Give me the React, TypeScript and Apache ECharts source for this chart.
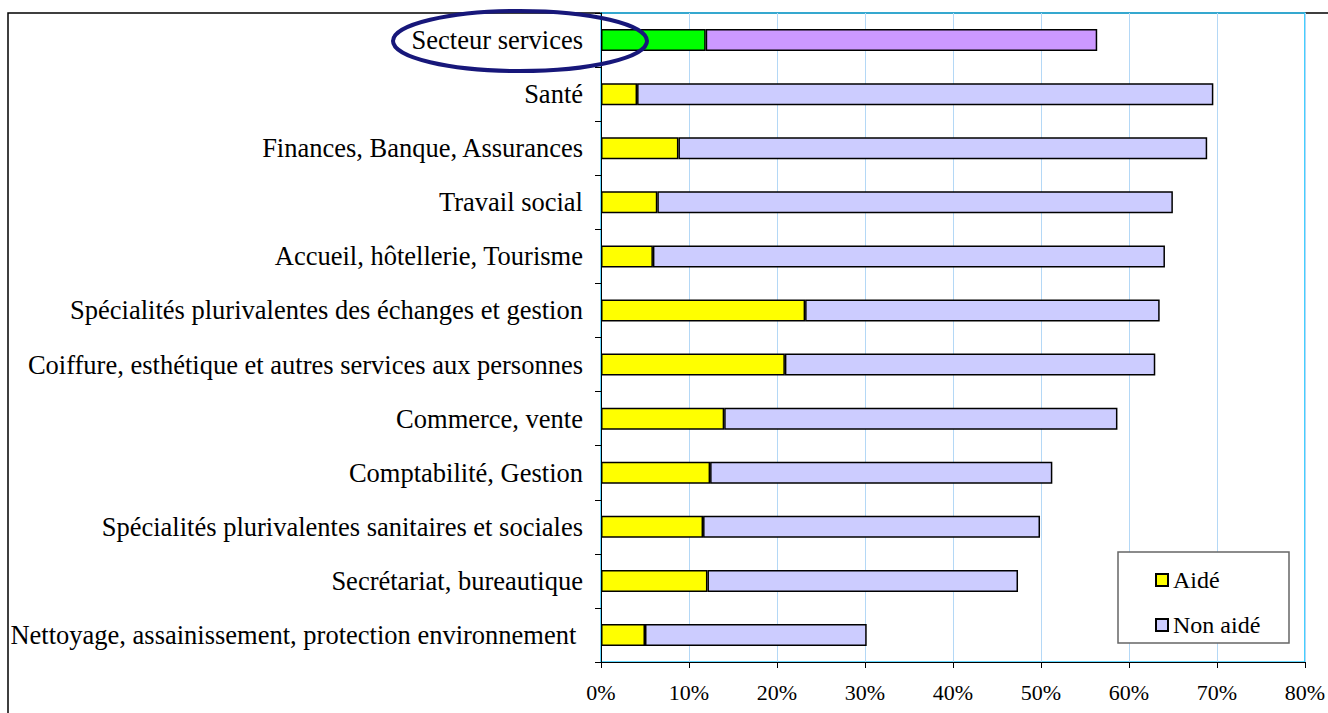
import React, { useEffect, useRef } from "react";
import * as echarts from "echarts";

const categories = [
  "Secteur services",
  "Santé",
  "Finances, Banque, Assurances",
  "Travail social",
  "Accueil, hôtellerie, Tourisme",
  "Spécialités plurivalentes des échanges et gestion",
  "Coiffure, esthétique et autres services aux personnes",
  "Commerce, vente",
  "Comptabilité, Gestion",
  "Spécialités plurivalentes sanitaires et sociales",
  "Secrétariat, bureautique",
  "Nettoyage, assainissement, protection environnement ",
];
const aide = [11.9, 4.1, 8.8, 6.4, 5.9, 23.2, 20.9, 14.0, 12.4, 11.6, 12.1, 5.0];
const nonAide = [44.5, 65.5, 60.1, 58.6, 58.2, 40.3, 42.1, 44.7, 38.9, 38.3, 35.3, 25.2];
const xTicks = [0, 10, 20, 30, 40, 50, 60, 70, 80];

const FONT = '"Liberation Serif", "Times New Roman", serif';

export default function App() {
  const ref = useRef<HTMLDivElement>(null);
  useEffect(() => {
    if (!ref.current) return;
    const chart = echarts.init(ref.current, null, { renderer: "svg" });
    const border = { borderColor: "#000", borderWidth: 1.5 };
    chart.setOption({
      animation: false,
      backgroundColor: "#fff",
      textStyle: { fontFamily: FONT },
      grid: {
        left: 601,
        right: 21,
        top: 13,
        bottom: 51,
        show: true,
        borderColor: "#33ccff",
        borderWidth: 1.5,
        backgroundColor: "transparent",
      },
      xAxis: {
        type: "value",
        min: xTicks[0],
        max: xTicks[xTicks.length - 1],
        interval: 10,
        axisLine: { show: true, lineStyle: { color: "#000", width: 1 } },
        axisTick: { show: true, length: 6, lineStyle: { color: "#000" } },
        splitLine: { show: true, lineStyle: { color: "#b4d8f6", width: 1 } },
        axisLabel: {
          formatter: "{value}%",
          fontFamily: FONT,
          fontSize: 22,
          color: "#000",
          margin: 19,
        },
      },
      yAxis: {
        type: "category",
        inverse: true,
        data: categories,
        axisLine: { show: true, lineStyle: { color: "#000", width: 1 } },
        axisTick: { show: true, length: 6, alignWithLabel: false, lineStyle: { color: "#000" } },
        axisLabel: {
          fontFamily: FONT,
          fontSize: 26.5,
          color: "#000",
          margin: 18,
        },
      },
      legend: {
        orient: "vertical",
        left: 1150,
        top: 563,
        z: 20,
        itemWidth: 12,
        itemHeight: 12,
        itemGap: 21,
        icon: "rect",
        textStyle: { fontFamily: FONT, fontSize: 24, color: "#000", lineHeight: 24 },
        data: ["Aidé", "Non aidé"],
      },
      graphic: [
        {
          type: "rect",
          z: -1,
          shape: { x: 8, y: 13, width: 1500, height: 900 },
          style: { fill: "none", stroke: "#000", lineWidth: 1.5 },
        },
        {
          type: "rect",
          z: 3,
          shape: { x: 1118, y: 552, width: 171, height: 91 },
          style: { fill: "#fff", stroke: "#666", lineWidth: 1.5 },
        },
        {
          type: "ellipse",
          z: 100,
          shape: { cx: 520, cy: 41, rx: 127, ry: 30 },
          style: { fill: "none", stroke: "#17177a", lineWidth: 4 },
        },
      ],
      series: [
        {
          name: "Aidé",
          type: "bar",
          stack: "t",
          barWidth: 22,
          itemStyle: { color: "#ffff00", ...border },
          data: aide.map((v, i) =>
            i === 0 ? { value: v, itemStyle: { color: "#00ff00" } } : v
          ),
        },
        {
          name: "Non aidé",
          type: "bar",
          stack: "t",
          barWidth: 22,
          itemStyle: { color: "#ccccff", ...border },
          data: nonAide.map((v, i) =>
            i === 0 ? { value: v, itemStyle: { color: "#cc99ff" } } : v
          ),
        },
      ],
    });
    return () => chart.dispose();
  }, []);
  return (
    <div
      ref={ref}
      style={{ position: "absolute", left: 0, top: 0, width: 1328, height: 713 }}
    />
  );
}
